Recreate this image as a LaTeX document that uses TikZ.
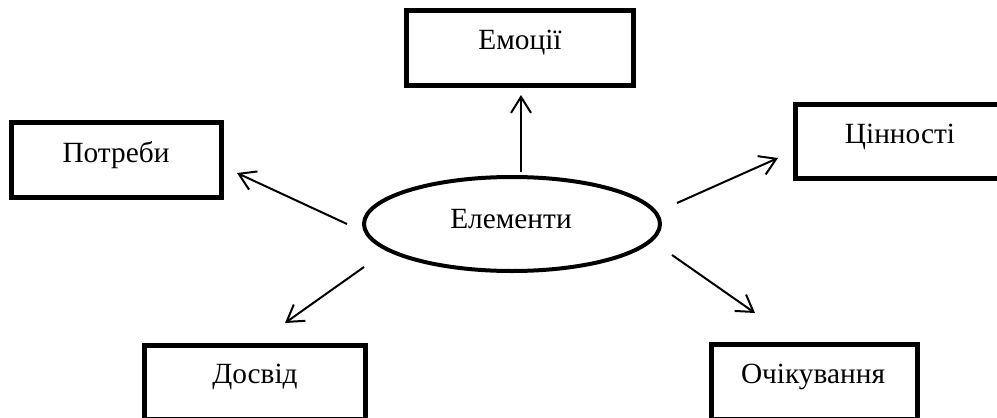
\documentclass[tikz,border=0pt]{standalone}
\usepackage{fontspec}
\setmainfont{Liberation Serif}
\usetikzlibrary{arrows.meta,shapes.geometric}
\begin{document}
\begin{tikzpicture}[x=0.75pt,y=-0.75pt,
  boxframe/.style={draw, line width=3.75pt, inner sep=0pt},
  oval/.style={draw, ellipse, line width=3pt, inner sep=0pt},
  lbl/.style={font=\fontsize{22}{26}\selectfont, anchor=base, inner sep=0pt},
  conn/.style={line width=1.5pt, -{Straight Barb[length=12pt,width=15pt,line width=1.5pt]}}]
\useasboundingbox (0,0) rectangle (997,418);
\clip (0,0) rectangle (997,418);
% boxes
\node[boxframe, minimum width=170.25pt, minimum height=56.25pt] (emo) at (520,48) {};
\node[boxframe, minimum width=157.5pt, minimum height=56.25pt] (potr) at (116.5,160) {};
\node[boxframe, minimum width=156.75pt, minimum height=55.5pt] (cin) at (900,141.5) {};
\node[boxframe, minimum width=165.75pt, minimum height=55.5pt] (dosv) at (255,382) {};
\node[boxframe, minimum width=154.5pt, minimum height=55.9pt] (ochik) at (814.5,381.75) {};
\node[oval, minimum width=222pt, minimum height=70.5pt] (elem) at (512,224) {};
% labels
\node[lbl] (temo) at (520,49) {Емоції};
\node[lbl] (tpotr) at (116,162) {Потреби};
\node[lbl] (tcin) at (900,143) {Цінності};
\node[lbl] (telem) at (511,228) {Елементи};
\node[lbl] (tdosv) at (255,383) {Досвід};
\node[lbl] (tochik) at (813,383) {Очікування};
% connector ends
\coordinate (a1) at (521,172); \coordinate (b1) at (521,95);
\coordinate (a2) at (347,224); \coordinate (b2) at (237,173);
\coordinate (a3) at (677,203); \coordinate (b3) at (778,158);
\coordinate (a4) at (364,267); \coordinate (b4) at (285,323);
\coordinate (a5) at (672,255); \coordinate (b5) at (755,313);
\draw[conn] (a1) -- (b1);
\draw[conn] (a2) -- (b2);
\draw[conn] (a3) -- (b3);
\draw[conn] (a4) -- (b4);
\draw[conn] (a5) -- (b5);
\end{tikzpicture}
\end{document}
